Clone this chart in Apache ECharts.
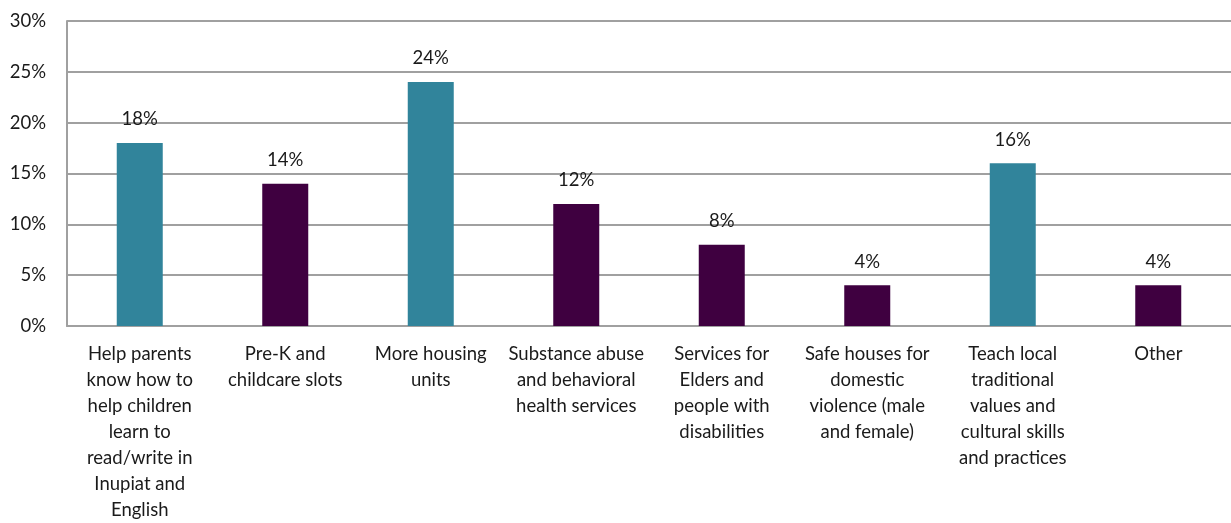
<!DOCTYPE html>
<html>
<head>
<meta charset="utf-8">
<script src="https://cdn.jsdelivr.net/npm/echarts@6/dist/echarts.min.js"></script>
<style>
  html, body { margin: 0; padding: 0; background: #fff; }
  #chart { width: 1231px; height: 523px; }
</style>
</head>
<body>
<div id="chart"></div>
<script>
// Survey priorities: share of respondents choosing each option
const categories = [
  'Help parents\nknow how to\nhelp children\nlearn to\nread/write in\nInupiat and\nEnglish',
  'Pre-K and\nchildcare slots',
  'More housing\nunits',
  'Substance abuse\nand behavioral\nhealth services',
  'Services for\nElders and\npeople with\ndisabilities',
  'Safe houses for\ndomestic\nviolence (male\nand female)',
  'Teach local\ntraditional\nvalues and\ncultural skills\nand practices',
  'Other'
];
const values = [18, 14, 24, 12, 8, 4, 16, 4];
// Categories drawn in the accent colour
const highlighted = [0, 2, 6];
const yTicks = [0, 5, 10, 15, 20, 25, 30];

const TEAL = '#31849B';
const PLUM = '#3F0040';
const FONT = 'Lato, "Open Sans", sans-serif';
const SIZE = 18.5;

const chart = echarts.init(document.getElementById('chart'), null, { renderer: 'canvas' });
chart.setOption({
  animation: false,
  grid: { left: 67, right: 0, top: 21, bottom: 195, containLabel: false },
  xAxis: {
    type: 'category',
    data: categories,
    axisLine: { show: true, lineStyle: { color: '#A0A0A0', width: 2 } },
    axisTick: { show: false },
    axisLabel: {
      interval: 0,
      margin: 15,
      color: '#1a1a1a',
      fontFamily: FONT,
      fontSize: SIZE,
      lineHeight: 26,
      align: 'center'
    }
  },
  yAxis: {
    type: 'value',
    min: yTicks[0],
    max: yTicks[yTicks.length - 1],
    interval: yTicks[1] - yTicks[0],
    axisLine: { show: true, lineStyle: { color: '#A0A0A0', width: 2 } },
    axisTick: { show: false },
    splitLine: { show: true, lineStyle: { color: '#A0A0A0', width: 2 } },
    axisLabel: {
      margin: 21,
      color: '#1a1a1a',
      fontFamily: FONT,
      fontSize: SIZE,
      formatter: v => v + '%'
    }
  },
  series: [{
    type: 'bar',
    barWidth: 46,
    data: values.map((v, i) => ({
      value: v,
      itemStyle: { color: highlighted.includes(i) ? TEAL : PLUM }
    })),
    label: {
      show: true,
      position: 'top',
      distance: 14,
      color: '#1a1a1a',
      fontFamily: FONT,
      fontSize: SIZE,
      formatter: p => p.value + '%'
    }
  }]
});
</script>
</body>
</html>
